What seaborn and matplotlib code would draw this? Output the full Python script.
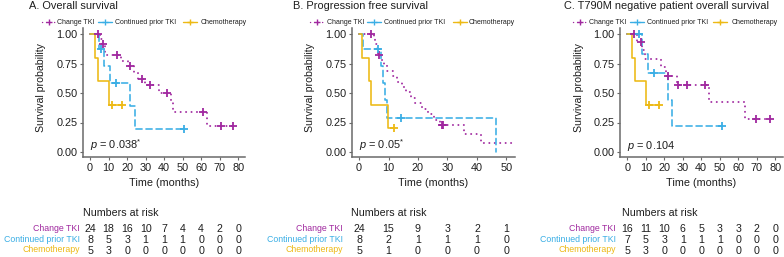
import matplotlib
matplotlib.use("Agg")
import matplotlib.pyplot as plt
import matplotlib.transforms as mtransforms
from matplotlib.lines import Line2D
import seaborn as sns

# ----------------------------- data -----------------------------
group_names = ["Change TKI", "Continued prior TKI", "Chemotherapy"]
panel_titles = ["A. Overall survival", "B. Progression free survival",
                "C. T790M negative patient overall survival"]
p_labels = [r"$\it{p}$ = 0.038$^{*}$", r"$\it{p}$ = 0.05$^{*}$", r"$\it{p}$ = 0.104"]

# Panel A : overall survival (step curves + censor marks)
A_change_time = [0, 5.5, 6.5, 7.8, 16.5, 20.5, 23.5, 26.0, 29.5, 37.0, 43.5, 45.0, 63.0, 77.2]
A_change_surv = [1.0, 0.957, 0.913, 0.822, 0.773, 0.725, 0.673, 0.621, 0.565, 0.502, 0.418, 0.335, 0.223, 0.223]
A_change_cens_time = [4.2, 6.9, 14.3, 21.6, 28.0, 32.4, 41.8, 61.0, 70.6, 77.2]
A_change_cens_surv = [1.0, 0.913, 0.822, 0.725, 0.621, 0.565, 0.502, 0.335, 0.223, 0.223]
A_cont_time = [0, 5.0, 7.4, 10.5, 21.5, 24.0, 51.0]
A_cont_surv = [1.0, 0.875, 0.729, 0.583, 0.389, 0.194, 0.194]
A_cont_cens_time = [6.0, 13.8, 51.0]
A_cont_cens_surv = [0.875, 0.583, 0.194]
A_chemo_time = [0, 2.5, 4.0, 10.0, 17.0]
A_chemo_surv = [1.0, 0.8, 0.6, 0.4, 0.4]
A_chemo_cens_time = [11.6, 17.0]
A_chemo_cens_surv = [0.4, 0.4]
A_risk_times = [0, 10, 20, 30, 40, 50, 60, 70, 80]
A_risk_change = [24, 18, 16, 10, 7, 4, 4, 2, 0]
A_risk_cont = [8, 5, 3, 1, 1, 1, 0, 0, 0]
A_risk_chemo = [5, 3, 0, 0, 0, 0, 0, 0, 0]

# Panel B : progression free survival
B_change_time = [0, 5.0, 5.5, 6.0, 6.4, 7.5, 8.5, 9.5, 11.5, 13.0, 14.5, 16.0, 17.5, 19.0,
                 21.5, 23.5, 25.5, 27.5, 35.5, 41.2, 53.0]
B_change_surv = [1.0, 0.957, 0.913, 0.870, 0.826, 0.780, 0.734, 0.688, 0.642, 0.596, 0.550,
                 0.505, 0.459, 0.413, 0.367, 0.321, 0.275, 0.229, 0.153, 0.076, 0.076]
B_change_cens_time = [4.2, 6.7, 28.0, 28.5]
B_change_cens_surv = [1.0, 0.826, 0.229, 0.229]
B_cont_time = [0, 1.2, 7.3, 8.0, 8.7, 9.5, 46.6]
B_cont_surv = [1.0, 0.875, 0.729, 0.583, 0.4375, 0.292, 0.0]
B_cont_cens_time = [6.6, 14.4]
B_cont_cens_surv = [0.875, 0.292]
B_chemo_time = [0, 1.0, 3.3, 4.1, 9.7, 12.0]
B_chemo_surv = [1.0, 0.8, 0.6, 0.4, 0.2, 0.2]
B_chemo_cens_time = [12.0]
B_chemo_cens_surv = [0.2]
B_risk_times = [0, 10, 20, 30, 40, 50]
B_risk_change = [24, 15, 9, 3, 2, 1]
B_risk_cont = [8, 2, 1, 1, 1, 0]
B_risk_chemo = [5, 1, 0, 0, 0, 0]

# Panel C : T790M negative overall survival
C_change_time = [0, 5.5, 8.0, 9.5, 18.5, 21.0, 26.7, 44.3, 63.8, 77.1]
C_change_surv = [1.0, 0.933, 0.862, 0.790, 0.718, 0.646, 0.565, 0.424, 0.283, 0.283]
C_change_cens_time = [3.8, 7.4, 21.8, 27.7, 32.3, 42.2, 69.9, 77.1]
C_change_cens_surv = [1.0, 0.933, 0.646, 0.565, 0.565, 0.565, 0.283, 0.283]
C_cont_time = [0, 7.9, 11.0, 21.8, 24.0, 51.2]
C_cont_surv = [1.0, 0.833, 0.667, 0.444, 0.222, 0.222]
C_cont_cens_time = [6.5, 14.2, 51.2]
C_cont_cens_surv = [1.0, 0.667, 0.222]
C_chemo_time = [0, 2.5, 4.0, 10.0, 17.3]
C_chemo_surv = [1.0, 0.8, 0.6, 0.4, 0.4]
C_chemo_cens_time = [11.5, 17.3]
C_chemo_cens_surv = [0.4, 0.4]
C_risk_times = [0, 10, 20, 30, 40, 50, 60, 70, 80]
C_risk_change = [16, 11, 10, 6, 5, 3, 3, 2, 0]
C_risk_cont = [7, 5, 3, 1, 1, 1, 0, 0, 0]
C_risk_chemo = [5, 3, 0, 0, 0, 0, 0, 0, 0]

# ----------------------------- style -----------------------------
sns.set_style("white")
plt.rcParams["font.family"] = ["Liberation Sans", "DejaVu Sans"]
plt.rcParams["mathtext.fontset"] = "custom"
plt.rcParams["mathtext.rm"] = "Liberation Sans"
plt.rcParams["mathtext.it"] = "Liberation Sans:italic"

COLORS = ["#A0289F", "#3AAEE5", "#EDB914"]
LSTYLES = [(0, (0.1, 2.8)), (0, (3.9, 2.4)), "-"]
LWIDTH = [1.35, 1.15, 1.15]
TXT = "#1e1e1e"
AXC = "#6a6a6a"

W, H = 784, 257
fig = plt.figure(figsize=(W / 100, H / 100), dpi=100)


def fx(px):
    return px / W


def fy(py):
    return 1 - py / H


TOP, BOT = 28.0, 157.3
panels = [
    dict(left=82.7, right=245.0, xlim=(-4.0, 83.7), xticks=A_risk_times,
         curves=[(A_change_time, A_change_surv, A_change_cens_time, A_change_cens_surv),
                 (A_cont_time, A_cont_surv, A_cont_cens_time, A_cont_cens_surv),
                 (A_chemo_time, A_chemo_surv, A_chemo_cens_time, A_chemo_cens_surv)],
         risk=[A_risk_change, A_risk_cont, A_risk_chemo],
         title_x=29.3, ylab_x=41.5, lab_right=80.0, nar_x=83.0,
         legend=[(48.5, 57.0), (104.5, 115.0), (190.0, 200.7)]),
    dict(left=351.6, right=515.0, xlim=(-2.52, 52.9), xticks=B_risk_times,
         curves=[(B_change_time, B_change_surv, B_change_cens_time, B_change_cens_surv),
                 (B_cont_time, B_cont_surv, B_cont_cens_time, B_cont_cens_surv),
                 (B_chemo_time, B_chemo_surv, B_chemo_cens_time, B_chemo_cens_surv)],
         risk=[B_risk_change, B_risk_cont, B_risk_chemo],
         title_x=293.3, ylab_x=310.4, lab_right=342.7, nar_x=350.7,
         legend=[(316.5, 326.7), (373.7, 384.0), (459.7, 469.0)]),
    dict(left=620.0, right=782.5, xlim=(-3.95, 84.0), xticks=C_risk_times,
         curves=[(C_change_time, C_change_surv, C_change_cens_time, C_change_cens_surv),
                 (C_cont_time, C_cont_surv, C_cont_cens_time, C_cont_cens_surv),
                 (C_chemo_time, C_chemo_surv, C_chemo_cens_time, C_chemo_cens_surv)],
         risk=[C_risk_change, C_risk_cont, C_risk_chemo],
         title_x=564.0, ylab_x=579.0, lab_right=616.0, nar_x=621.7,
         legend=[(580.0, 589.0), (637.0, 647.0), (720.0, 732.0)]),
]

ylo = -(BOT - 152.0) / 118.0
yhi = 1 + (34.0 - TOP) / 118.0

for i, P in enumerate(panels):
    ax = fig.add_axes([fx(P["left"]), fy(BOT), (P["right"] - P["left"]) / W, (BOT - TOP) / H])
    ax.set_facecolor("white")
    for g in range(3):
        t, s, ct, cs = P["curves"][g]
        sns.lineplot(x=t, y=s, ax=ax, color=COLORS[g], drawstyle="steps-post",
                     estimator=None, sort=False, linestyle=LSTYLES[g],
                     linewidth=LWIDTH[g], dash_capstyle="round", legend=False, zorder=2 + g)
    for g in range(3):
        t, s, ct, cs = P["curves"][g]
        sns.scatterplot(x=ct, y=cs, ax=ax, marker="+", s=32, color=COLORS[g],
                        linewidth=1.3, legend=False, zorder=6)
    ax.set_xlim(*P["xlim"])
    ax.set_ylim(ylo, yhi)
    ax.set_xticks(P["xticks"])
    ax.set_xticklabels([str(v) for v in P["xticks"]])
    ax.set_yticks([0, 0.25, 0.5, 0.75, 1.0])
    ax.set_yticklabels(["0.00", "0.25", "0.50", "0.75", "1.00"])
    ax.tick_params(axis="both", labelsize=7.8, length=2.4, width=0.8, color=AXC,
                   labelcolor=TXT, pad=1.4, direction="out", left=True, bottom=True)
    ax.set_xlabel("")
    ax.set_ylabel("")
    sns.despine(ax=ax)
    for sp in ["left", "bottom"]:
        ax.spines[sp].set_color(AXC)
        ax.spines[sp].set_linewidth(1.1)
    ax.grid(False)

    # p value
    ax.text(0, (152.0 - 149.0) / 118.0, p_labels[i], fontsize=7.9, color=TXT,
            ha="left", va="baseline")

    # titles and labels
    fig.text(fx(P["title_x"]), fy(8.7), panel_titles[i], fontsize=7.9, color=TXT,
             ha="left", va="baseline")
    fig.text(fx(P["ylab_x"]), fy(87.5), "Survival probability", fontsize=7.6, color=TXT,
             rotation=90, ha="center", va="center")
    fig.text(fx((P["left"] + P["right"]) / 2), fy(186.5), "Time (months)", fontsize=7.8,
             color=TXT, ha="center", va="baseline")

    # legend
    for g in range(3):
        kc, tx = P["legend"][g]
        ln = Line2D([fx(kc - 7), fx(kc), fx(kc + 7)], [fy(22), fy(22), fy(22)],
                    transform=fig.transFigure, color=COLORS[g], linestyle=LSTYLES[g],
                    linewidth=1.0, dash_capstyle="round", marker="+", markevery=[1],
                    markersize=4.8, markeredgewidth=1.0)
        fig.add_artist(ln)
        fig.text(fx(tx), fy(24.0), group_names[g], fontsize=5.0, color=TXT,
                 ha="left", va="baseline")

    # numbers at risk table
    fig.text(fx(P["nar_x"]), fy(215.8), "Numbers at risk", fontsize=7.7, color=TXT,
             ha="left", va="baseline")
    trans = mtransforms.blended_transform_factory(ax.transData, fig.transFigure)
    num_base = [232.4, 243.2, 254.0]
    lab_base = [230.8, 241.6, 252.4]
    for g in range(3):
        fig.text(fx(P["lab_right"]), fy(lab_base[g]), group_names[g], fontsize=6.3,
                 color=COLORS[g], ha="right", va="baseline")
        for tv, n in zip(P["xticks"], P["risk"][g]):
            ax.text(tv, fy(num_base[g]), str(n), transform=trans, fontsize=7.7,
                    color=TXT, ha="center", va="baseline", clip_on=False)

fig.savefig("out.png", dpi=100, facecolor="white")
